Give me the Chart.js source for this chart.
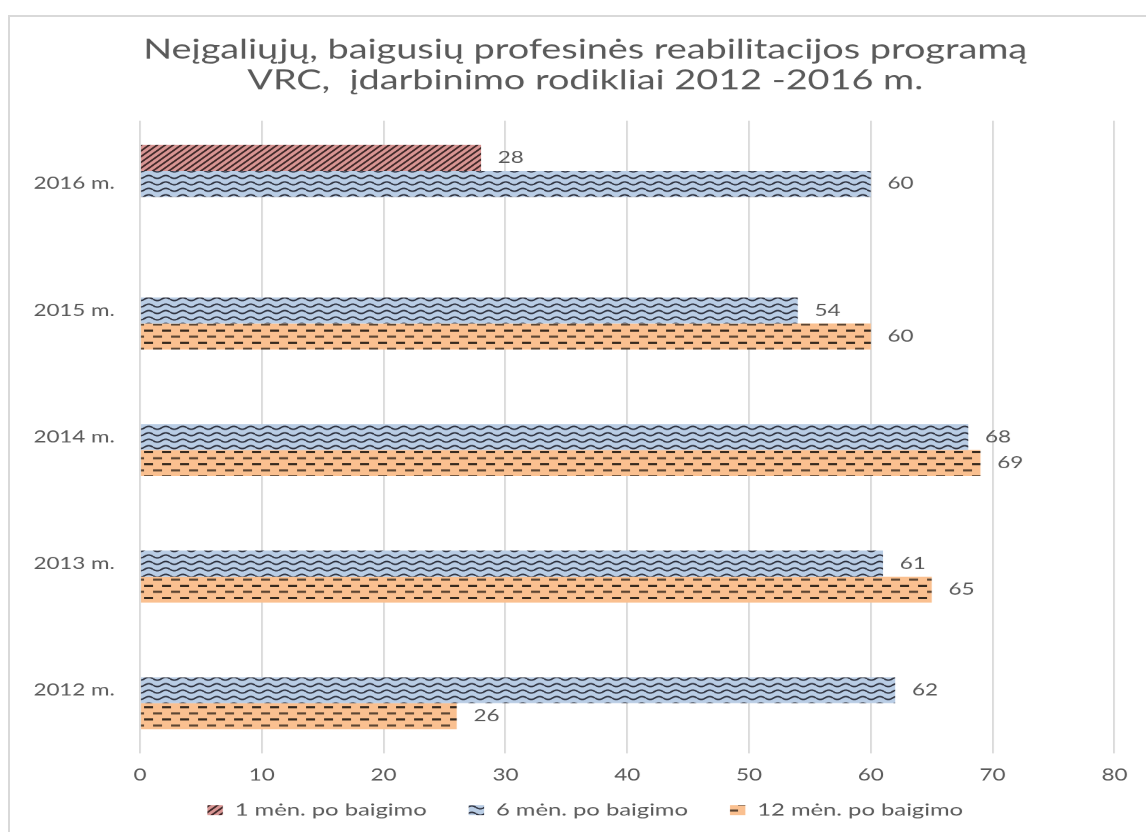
<!DOCTYPE html>
<html><head><meta charset="utf-8">
<script src="https://cdn.jsdelivr.net/npm/chart.js@4"></script>
<style>
html,body{margin:0;padding:0;background:#fff;overflow:hidden;width:1146px;height:832px;}
#frame{position:absolute;left:8px;top:15px;width:1200px;height:900px;border:2px solid #d9d9d9;box-sizing:border-box;}
#wrap{position:absolute;left:0;top:0;width:819px;height:832px;transform:scaleX(1.39927);transform-origin:0 0;}
</style></head><body>
<div id="frame"></div>
<div id="wrap"><canvas id="c"></canvas></div>
<script>
// ---- data ----
const categories = ['2016 m.', '2015 m.', '2014 m.', '2013 m.', '2012 m.'];
const seriesNames = ['1 mėn. po baigimo', '6 mėn. po baigimo', '12 mėn. po baigimo'];
const oneMonth = [28, null, null, null, null];
const sixMonths = [60, 54, 68, 61, 62];
const twelveMonths = [null, 60, 69, 65, 26];
const xTicks = [0, 10, 20, 30, 40, 50, 60, 70, 80];
const titleLines = ['Neįgaliųjų, baigusių profesinės reabilitacijos programą', 'VRC,  įdarbinimo rodikliai 2012 -2016 m.'];

const DPR = 1.4;
function makePattern(bg, w, h, draw) {
  const c = document.createElement('canvas');
  c.width = w; c.height = h;
  const g = c.getContext('2d');
  g.fillStyle = bg; g.fillRect(0, 0, w, h);
  draw(g, w, h);
  const p = g.createPattern(c, 'repeat');
  if (p.setTransform) p.setTransform(new DOMMatrix().scale(1 / DPR));
  return p;
}
const redPattern = makePattern('#da9694', 8, 8, (g, w, h) => {
  g.strokeStyle = 'rgba(20,10,10,0.8)'; g.lineWidth = 2;
  g.beginPath();
  g.moveTo(0, h); g.lineTo(w, 0);
  g.moveTo(-2, 2); g.lineTo(2, -2);
  g.moveTo(w - 2, h + 2); g.lineTo(w + 2, h - 2);
  g.stroke();
});
const bluePattern = makePattern('#b9cde5', 17, 9, (g, w, h) => {
  g.strokeStyle = 'rgba(20,20,30,0.85)'; g.lineWidth = 2;
  g.beginPath();
  for (let x = 0; x <= w; x += 0.5) {
    const y = h / 2 + 2 * Math.sin(2 * Math.PI * x / w);
    if (x === 0) g.moveTo(x, y); else g.lineTo(x, y);
  }
  g.stroke();
});
const orangePattern = makePattern('#fac090', 18, 17, (g, w, h) => {
  g.fillStyle = 'rgba(20,15,10,0.85)';
  g.fillRect(0, 2, 9, 3);
  g.fillStyle = 'rgba(40,30,20,0.75)';
  g.fillRect(9, 10.5, 9, 3);
});

const valueLabels = {
  id: 'valueLabels',
  afterDatasetsDraw(chart) {
    const ctx = chart.ctx;
    ctx.save();
    ctx.font = '16px Lato, "Noto Sans", sans-serif';
    ctx.fillStyle = '#595959';
    ctx.textAlign = 'left';
    ctx.textBaseline = 'middle';
    chart.data.datasets.forEach((ds, i) => {
      const meta = chart.getDatasetMeta(i);
      meta.data.forEach((bar, j) => {
        const v = ds.data[j];
        if (v === null || v === undefined) return;
        ctx.fillText(String(v), bar.x + 12, bar.y);
      });
    });
    ctx.restore();
  }
};

const font = (size) => ({ family: 'Lato, "Noto Sans", sans-serif', size: size });
const noLabelClip = (s) => { s._computeLabelArea = () => undefined; };

new Chart(document.getElementById('c'), {
  type: 'bar',
  data: {
    labels: categories,
    datasets: [
      { label: seriesNames[0], data: oneMonth, backgroundColor: redPattern },
      { label: seriesNames[1], data: sixMonths, backgroundColor: bluePattern },
      { label: seriesNames[2], data: twelveMonths, backgroundColor: orangePattern }
    ]
  },
  options: {
    indexAxis: 'y',
    responsive: true,
    maintainAspectRatio: false,
    devicePixelRatio: DPR,
    animation: false,
    datasets: { bar: { barPercentage: 1, categoryPercentage: 0.616, borderWidth: 0 } },
    layout: { padding: { left: 40, right: 23, top: 20, bottom: 4 } },
    scales: {
      x: {
        min: 0, max: 80,
        afterBuildTicks: (s) => { s.ticks = xTicks.map(v => ({ value: v })); },
        afterFit: (s) => { s.height = 18; noLabelClip(s); },
        grid: { color: '#d9d9d9', lineWidth: 1.3, drawTicks: false },
        border: { display: false },
        ticks: { color: '#595959', font: font(16), padding: 12 }
      },
      y: {
        afterFit: (s) => { s.width = 60; noLabelClip(s); },
        grid: { display: false, drawTicks: false },
        border: { display: false },
        ticks: { color: '#595959', font: font(16), padding: 18 }
      }
    },
    plugins: {
      title: {
        display: true,
        text: titleLines,
        color: '#595959',
        font: { family: 'Lato, "Noto Sans", sans-serif', size: 27, weight: 'normal', lineHeight: 1.12 },
        padding: { top: 15, bottom: 25 }
      },
      legend: {
        position: 'bottom',
        labels: { color: '#595959', font: font(17), boxWidth: 11, boxHeight: 10, padding: 30 }
      },
      tooltip: { enabled: false }
    }
  },
  plugins: [valueLabels]
});
</script>
</body></html>
